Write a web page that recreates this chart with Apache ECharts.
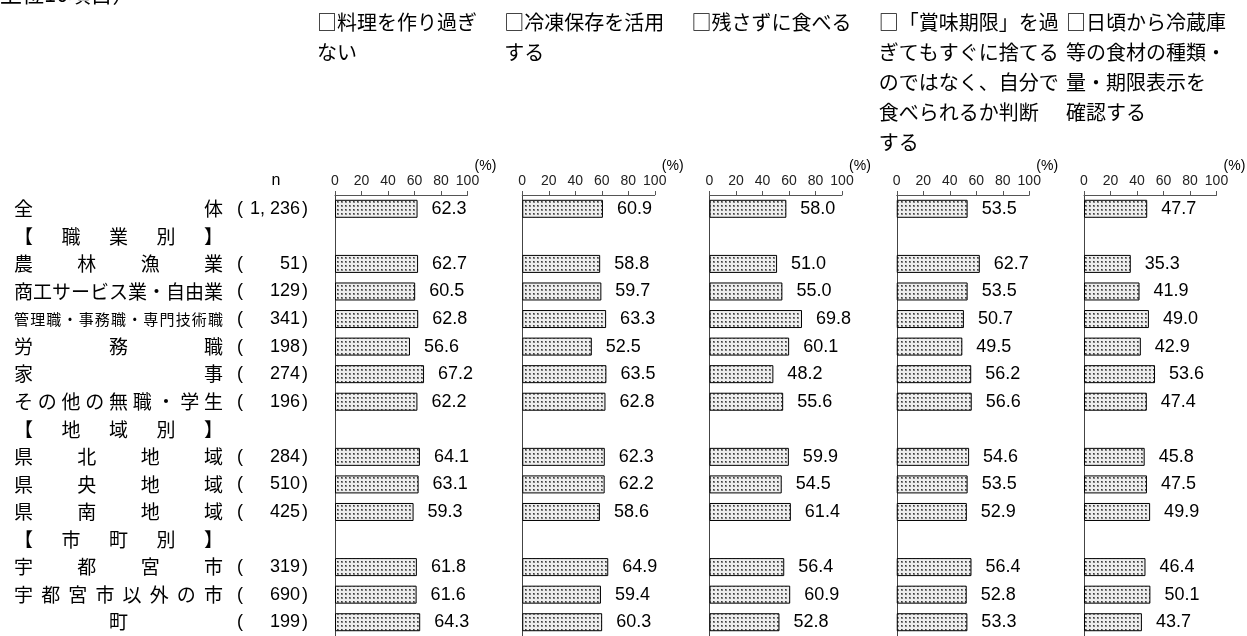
<!DOCTYPE html>
<html><head><meta charset="utf-8">
<script src="https://cdn.jsdelivr.net/npm/echarts@6/dist/echarts.min.js"></script>
<style>html,body{margin:0;padding:0;background:#fff}#c{width:1247px;height:636px}</style>
</head><body><div id="c"></div>
<script>
// ---- data ----
const categories = ['全体','【職業別】','農林漁業','商工サービス業・自由業','管理職・事務職・専門技術職','労務職','家事','その他の無職・学生','【地域別】','県北地域','県央地域','県南地域','【市町別】','宇都宮市','宇都宮市以外の市','町'];
const nValues = ['1, 236', null, '51', '129', '341', '198', '274', '196', null, '284', '510', '425', null, '319', '690', '199'];
const panelTitles = [
  '□料理を作り過ぎ\nない',
  '□冷凍保存を活用\nする',
  '□残さずに食べる',
  '□「賞味期限」を過\nぎてもすぐに捨てる\nのではなく、自分で\n食べられるか判断\nする',
  '□日頃から冷蔵庫\n等の食材の種類・\n量・期限表示を\n確認する'
];
const s1 = [62.3, '-', 62.7, 60.5, 62.8, 56.6, 67.2, 62.2, '-', 64.1, 63.1, 59.3, '-', 61.8, 61.6, 64.3];
const s2 = [60.9, '-', 58.8, 59.7, 63.3, 52.5, 63.5, 62.8, '-', 62.3, 62.2, 58.6, '-', 64.9, 59.4, 60.3];
const s3 = [58.0, '-', 51.0, 55.0, 69.8, 60.1, 48.2, 55.6, '-', 59.9, 54.5, 61.4, '-', 56.4, 60.9, 52.8];
const s4 = [53.5, '-', 62.7, 53.5, 50.7, 49.5, 56.2, 56.6, '-', 54.6, 53.5, 52.9, '-', 56.4, 52.8, 53.3];
const s5 = [47.7, '-', 35.3, 41.9, 49.0, 42.9, 53.6, 47.4, '-', 45.8, 47.5, 49.9, '-', 46.4, 50.1, 43.7];
const allSeries = [s1, s2, s3, s4, s5];
const topNote = '上位10項目）';
const nHeader = 'n';
const unitLabel = '(%)';

// ---- styling / layout ----
const JP = '"Noto Sans CJK JP", sans-serif';
const LAT = '"Liberation Sans", Arial, sans-serif';
const chart = echarts.init(document.getElementById('c'));

const pat = document.createElement('canvas');
pat.width = 4; pat.height = 4;
const pc = pat.getContext('2d');
pc.fillStyle = '#eeeeee'; pc.fillRect(0, 0, 4, 4);
pc.fillStyle = '#808080'; pc.fillRect(1, 1, 2, 2);
pc.fillStyle = '#3c3c3c'; pc.fillRect(1, 1, 1, 1);

const NAME_W = 209;
const rich = {
  m: {width: NAME_W, align: 'center', fontSize: 19, fontFamily: JP, color: '#000'},
  op: {width: 20, align: 'right', fontSize: 18, fontFamily: LAT, color: '#000'},
  num: {width: 57, align: 'right', fontSize: 18, fontFamily: LAT, color: '#000'},
  cp: {width: 8, align: 'right', fontSize: 18, fontFamily: LAT, color: '#000'}
};
categories.forEach((name, i) => {
  const chars = Array.from(name);
  const fs = chars.length > 11 ? 15 : 19;
  const sp = chars.length > 1 ? (NAME_W - fs) / (chars.length - 1) : NAME_W;
  rich['c' + i] = {width: sp, align: 'left', fontSize: fs, fontFamily: JP, color: '#000'};
  rich['l' + i] = {width: fs, align: 'left', fontSize: fs, fontFamily: JP, color: '#000'};
});
function fmtLabel(value, index) {
  const chars = Array.from(value);
  let s;
  if (chars.length === 1) s = '{m|' + value + '}';
  else s = chars.map((ch, k) => (k < chars.length - 1 ? '{c' + index + '|' : '{l' + index + '|') + ch + '}').join('');
  const n = nValues[index];
  if (n) s += '{op|(}{num|' + n + '}{cp|)}';
  return s;
}

const grids = [], xAxes = [], yAxes = [], series = [], graphics = [];
const GL = 335, PITCH = 187.25, GW = 132.5, GT = 195, GH = 441;
for (let p = 0; p < 5; p++) {
  const left = GL + p * PITCH;
  grids.push({left: left, top: GT, width: GW, height: GH});
  xAxes.push({
    type: 'value', gridIndex: p, position: 'top', min: 0, max: 100, interval: 20,
    axisLine: {show: true, lineStyle: {color: '#555', width: 1}},
    axisTick: {show: true, length: 4, lineStyle: {color: '#555'}},
    axisLabel: {margin: 7, fontSize: 14, fontFamily: LAT, color: '#222'},
    splitLine: {show: false}
  });
  yAxes.push({
    type: 'category', gridIndex: p, inverse: true, data: categories,
    axisLine: {show: true, lineStyle: {color: '#444', width: 1}},
    axisTick: {show: false},
    axisLabel: p === 0 ? {show: true, align: 'left', margin: GL - 14, formatter: fmtLabel, rich: rich, interval: 0} : {show: false}
  });
  series.push({
    type: 'bar', xAxisIndex: p, yAxisIndex: p, data: allSeries[p], barWidth: 18,
    itemStyle: {color: {image: pat, repeat: 'repeat'}, borderColor: '#000', borderWidth: 1},
    label: {show: true, position: 'right', distance: 14, fontSize: 18, fontFamily: LAT, color: '#000',
      formatter: (prm) => Number(prm.value).toFixed(1)},
    animation: false, silent: true
  });
  graphics.push({type: 'text', x: left - 18, y: 7,
    style: {text: panelTitles[p], font: '20px ' + JP, fill: '#000', lineHeight: 30, verticalAlign: 'top'}});
  graphics.push({type: 'text', x: left + GW + 18, y: 166,
    style: {text: unitLabel, font: '14px ' + LAT, fill: '#000', align: 'center', verticalAlign: 'middle'}});
}
graphics.push({type: 'text', x: 276, y: 181,
  style: {text: nHeader, font: '16px ' + LAT, fill: '#000', align: 'center', verticalAlign: 'middle'}});
graphics.push({type: 'text', x: 0, y: -17,
  style: {text: topNote, font: '22px ' + JP, fill: '#000', verticalAlign: 'top'}});

chart.setOption({
  animation: false,
  backgroundColor: '#fff',
  grid: grids, xAxis: xAxes, yAxis: yAxes, series: series, graphic: graphics
});
</script></body></html>
